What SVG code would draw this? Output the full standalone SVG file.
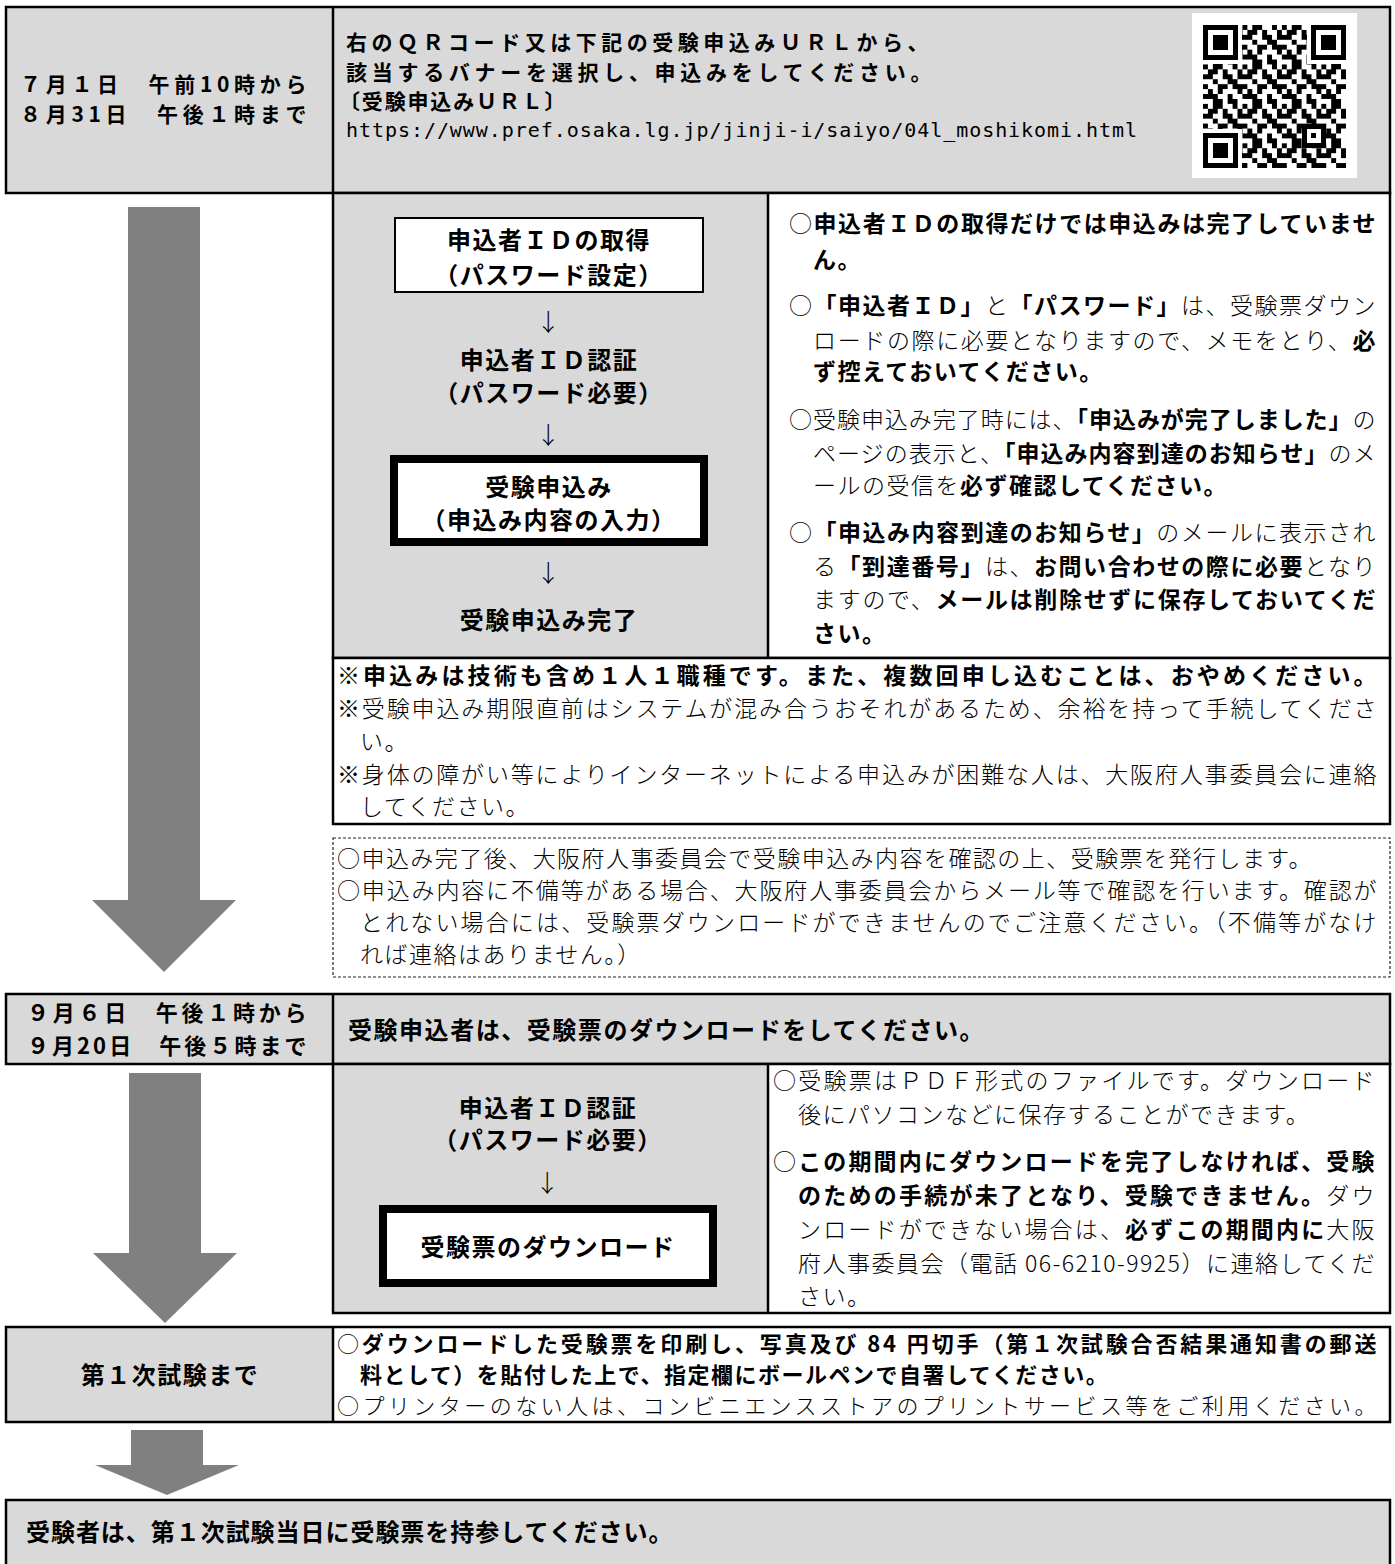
<svg xmlns="http://www.w3.org/2000/svg" width="1395" height="1564" viewBox="0 0 1395 1564">
<style>
.cell{stroke:#000;stroke-width:2.5}
.nofill{fill:none;stroke:#000;stroke-width:2.5}
.gray{fill:#d9d9d9}
.white{fill:#fff}
.ln{stroke:#000;stroke-width:2.5}
.g{font-family:"Noto Sans CJK JP","Noto Sans",sans-serif;font-weight:700;font-size:23px;letter-spacing:1.5px;fill:#000}
.m{font-family:"Noto Sans CJK JP","Noto Sans",sans-serif;font-weight:300;font-size:23px;letter-spacing:1.5px;fill:#000}
.b{font-weight:700}
.r{font-weight:300}
.c{text-anchor:middle}
.big{font-size:24px}
.sm{font-size:21px}
.s22{font-size:22px}
.url{font-family:"DejaVu Sans Mono","Liberation Mono",monospace;font-size:20px;font-weight:400;fill:#000}
.arrow{fill:#808080}
.thin{fill:#fff;stroke:#000;stroke-width:2}
.thick{fill:#fff;stroke:#000;stroke-width:8}
.dash{fill:#fff;stroke:#222;stroke-width:1.2;stroke-dasharray:3 2}
</style>
<defs>
<pattern id="qrp" patternUnits="userSpaceOnUse" width="8" height="8">
<path fill="#000" d="M0 0h1v1h-1z M2 0h2v1h-2z M6 0h1v1h-1z M1 1h2v1h-2z M4 1h1v1h-1z M7 1h1v1h-1z M0 2h2v1h-2z M4 2h2v1h-2z M7 2h1v1h-1z M2 3h1v1h-1z M5 3h2v1h-2z M0 4h1v1h-1z M3 4h2v1h-2z M6 4h2v1h-2z M1 5h1v1h-1z M3 5h1v1h-1z M7 5h1v1h-1z M0 6h3v1h-3z M5 6h1v1h-1z M2 7h2v1h-2z M5 7h2v1h-2z"/>
</pattern>
</defs>

<g id="connectors">
<polygon class="arrow" points="128,207 200,207 200,900 236,900 164,972 92,900 128,900"/>
<polygon class="arrow" points="129,1073 201,1073 201,1253 237,1253 165,1323 93,1253 129,1253"/>
<polygon class="arrow" points="131,1430 203,1430 203,1465 239,1465 167,1495 95,1465 131,1465"/>
</g>

<g id="row1">
<rect class="gray cell" x="6" y="7" width="1384" height="186"/>
<line class="ln" x1="333" y1="7" x2="333" y2="193"/>
<text class="g sm" x="20" y="92" textLength="288">７月１日　午前10時から</text>
<text class="g sm" x="20" y="122" textLength="288">８月31日　午後１時まで</text>
<text class="g sm" x="346" y="50" textLength="584">右のＱＲコード又は下記の受験申込みＵＲＬから、</text>
<text class="g sm" x="346" y="80" textLength="587">該当するバナーを選択し、申込みをしてください。</text>
<text class="g sm" x="339" y="109" textLength="228">〔受験申込みＵＲＬ〕</text>
<text class="url" x="346" y="137" textLength="791">https://www.pref.osaka.lg.jp/jinji-i/saiyo/04l_moshikomi.html</text>
<rect x="1192" y="13" width="165" height="165" fill="#fff"/>
<g transform="translate(1203,25) scale(4.93)" shape-rendering="crispEdges">
<rect x="0" y="0" width="29" height="29" fill="url(#qrp)"/>
<rect x="0" y="0" width="8" height="8" fill="#fff"/>
<rect x="21" y="0" width="8" height="8" fill="#fff"/>
<rect x="0" y="21" width="8" height="8" fill="#fff"/>
<rect x="0" y="0" width="7" height="7" fill="#000"/>
<rect x="1" y="1" width="5" height="5" fill="#fff"/>
<rect x="2" y="2" width="3" height="3" fill="#000"/>
<rect x="22" y="0" width="7" height="7" fill="#000"/>
<rect x="23" y="1" width="5" height="5" fill="#fff"/>
<rect x="24" y="2" width="3" height="3" fill="#000"/>
<rect x="0" y="22" width="7" height="7" fill="#000"/>
<rect x="1" y="23" width="5" height="5" fill="#fff"/>
<rect x="2" y="24" width="3" height="3" fill="#000"/>
<rect x="20" y="20" width="5" height="5" fill="#000"/>
<rect x="21" y="21" width="3" height="3" fill="#fff"/>
<rect x="22" y="22" width="1" height="1" fill="#000"/>
</g>
</g>

<g id="section2">
<rect class="gray" x="333" y="193" width="435" height="465"/>
<rect class="white" x="768" y="193" width="622" height="465"/>
<rect class="nofill" x="333" y="193" width="1057" height="465"/>
<line class="ln" x1="768" y1="193" x2="768" y2="658"/>
</g>

<g id="node-id-get">
<rect class="thin" x="395" y="218" width="308" height="74"/>
<text class="g big c" x="549" y="249">申込者ＩＤの取得</text>
<text class="g big c" x="549" y="284">（パスワード設定）</text>
</g>
<g id="arrow-a"><text class="m big c" x="549" y="331">↓</text></g>
<g id="node-id-auth">
<text class="g big c" x="549" y="369">申込者ＩＤ認証</text>
<text class="g big c" x="549" y="402">（パスワード必要）</text>
</g>
<g id="arrow-b"><text class="m big c" x="549" y="444">↓</text></g>
<g id="node-apply">
<rect class="thick" x="394" y="459" width="310" height="83"/>
<text class="g big c" x="549" y="496">受験申込み</text>
<text class="g big c" x="549" y="529">（申込み内容の入力）</text>
</g>
<g id="arrow-c"><text class="m big c" x="549" y="582">↓</text></g>
<g id="node-apply-done">
<text class="g big c" x="549" y="629">受験申込み完了</text>
</g>

<g id="notes2">
<text class="m" x="789" y="232" textLength="588"><tspan class="r">○</tspan><tspan class="b">申込者ＩＤの取得だけでは申込みは完了していませ</tspan></text>
<text class="g" x="813" y="268">ん。</text>
<text class="m" x="789" y="314" textLength="588"><tspan class="r">○</tspan><tspan class="b">「申込者ＩＤ」</tspan><tspan class="r">と</tspan><tspan class="b">「パスワード」</tspan><tspan class="r">は、受験票ダウン</tspan></text>
<text class="m" x="813" y="349" textLength="564"><tspan class="r">ロードの際に必要となりますので、メモをとり、</tspan><tspan class="b">必</tspan></text>
<text class="g" x="813" y="380">ず控えておいてください。</text>
<text class="m" x="789" y="428" textLength="588"><tspan class="r">○受験申込み完了時には、</tspan><tspan class="b">「申込みが完了しました」</tspan><tspan class="r">の</tspan></text>
<text class="m" x="813" y="462" textLength="564"><tspan class="r">ページの表示と、</tspan><tspan class="b">「申込み内容到達のお知らせ」</tspan><tspan class="r">のメ</tspan></text>
<text class="m" x="813" y="494"><tspan class="r">ールの受信を</tspan><tspan class="b">必ず確認してください。</tspan></text>
<text class="m" x="789" y="541" textLength="588"><tspan class="r">○</tspan><tspan class="b">「申込み内容到達のお知らせ」</tspan><tspan class="r">のメールに表示され</tspan></text>
<text class="m" x="813" y="575" textLength="564"><tspan class="r">る</tspan><tspan class="b">「到達番号」</tspan><tspan class="r">は、</tspan><tspan class="b">お問い合わせの際に必要</tspan><tspan class="r">となり</tspan></text>
<text class="m" x="813" y="608" textLength="564"><tspan class="r">ますので、</tspan><tspan class="b">メールは削除せずに保存しておいてくだ</tspan></text>
<text class="g" x="813" y="642">さい。</text>
</g>

<g id="row3">
<rect class="white cell" x="333" y="658" width="1057" height="166"/>
<text class="g" x="337" y="684" textLength="1041">※申込みは技術も含め１人１職種です。また、複数回申し込むことは、おやめください。</text>
<text class="m" x="337" y="717" textLength="1041">※受験申込み期限直前はシステムが混み合うおそれがあるため、余裕を持って手続してくださ</text>
<text class="m" x="360" y="750">い。</text>
<text class="m" x="337" y="783" textLength="1041">※身体の障がい等によりインターネットによる申込みが困難な人は、大阪府人事委員会に連絡</text>
<text class="m" x="360" y="815">してください。</text>
</g>

<g id="dashed-note">
<rect class="dash" x="333" y="838" width="1057" height="139"/>
<text class="m" x="337" y="867" textLength="976">○申込み完了後、大阪府人事委員会で受験申込み内容を確認の上、受験票を発行します。</text>
<text class="m" x="337" y="899" textLength="1041">○申込み内容に不備等がある場合、大阪府人事委員会からメール等で確認を行います。確認が</text>
<text class="m" x="360" y="931" textLength="1018">とれない場合には、受験票ダウンロードができませんのでご注意ください。（不備等がなけ</text>
<text class="m" x="360" y="963">れば連絡はありません。）</text>
</g>

<g id="row4">
<rect class="gray cell" x="6" y="994" width="1384" height="70"/>
<line class="ln" x1="333" y1="994" x2="333" y2="1064"/>
<text class="g s22" x="27" y="1021" textLength="281">９月６日　午後１時から</text>
<text class="g s22" x="27" y="1054" textLength="281">９月20日　午後５時まで</text>
<text class="g big" x="348" y="1039" textLength="637">受験申込者は、受験票のダウンロードをしてください。</text>
</g>

<g id="section5">
<rect class="gray" x="333" y="1064" width="435" height="249"/>
<rect class="white" x="768" y="1064" width="622" height="249"/>
<rect class="nofill" x="333" y="1064" width="1057" height="249"/>
<line class="ln" x1="768" y1="1064" x2="768" y2="1313"/>
</g>
<g id="node-id-auth2">
<text class="g big c" x="548" y="1117">申込者ＩＤ認証</text>
<text class="g big c" x="548" y="1149">（パスワード必要）</text>
</g>
<g id="arrow-d"><text class="m big c" x="548" y="1192">↓</text></g>
<g id="node-download">
<rect class="thick" x="383" y="1209" width="330" height="74"/>
<text class="g big c" x="548" y="1256">受験票のダウンロード</text>
</g>
<g id="notes5">
<text class="m" x="773" y="1089" textLength="603">○受験票はＰＤＦ形式のファイルです。ダウンロード</text>
<text class="m" x="798" y="1123">後にパソコンなどに保存することができます。</text>
<text class="m" x="773" y="1170" textLength="603"><tspan class="r">○</tspan><tspan class="b">この期間内にダウンロードを完了しなければ、受験</tspan></text>
<text class="m" x="798" y="1204" textLength="578"><tspan class="b">のための手続が未了となり、受験できません。</tspan><tspan class="r">ダウ</tspan></text>
<text class="m" x="798" y="1238" textLength="578"><tspan class="r">ンロードができない場合は、</tspan><tspan class="b">必ずこの期間内に</tspan><tspan class="r">大阪</tspan></text>
<text class="m" x="798" y="1272" textLength="578">府人事委員会（電話 06-6210-9925）に連絡してくだ</text>
<text class="m" x="798" y="1305">さい。</text>
</g>

<g id="row6">
<rect class="gray" x="6" y="1327" width="327" height="95"/>
<rect class="white" x="333" y="1327" width="1057" height="95"/>
<rect class="nofill" x="6" y="1327" width="1384" height="95"/>
<line class="ln" x1="333" y1="1327" x2="333" y2="1422"/>
<text class="g big c" x="170" y="1384">第１次試験まで</text>
<text class="m s22" x="337" y="1352" textLength="1041"><tspan class="r">○</tspan><tspan class="b">ダウンロードした受験票を印刷し、写真及び 84 円切手（第１次試験合否結果通知書の郵送</tspan></text>
<text class="g s22" x="360" y="1383">料として）を貼付した上で、指定欄にボールペンで自署してください。</text>
<text class="m s22" x="337" y="1414" textLength="1041">○プリンターのない人は、コンビニエンスストアのプリントサービス等をご利用ください。</text>
</g>

<g id="row7">
<rect class="gray cell" x="6" y="1500" width="1384" height="80"/>
<text class="g big" x="26" y="1541" textLength="648">受験者は、第１次試験当日に受験票を持参してください。</text>
</g>
</svg>
